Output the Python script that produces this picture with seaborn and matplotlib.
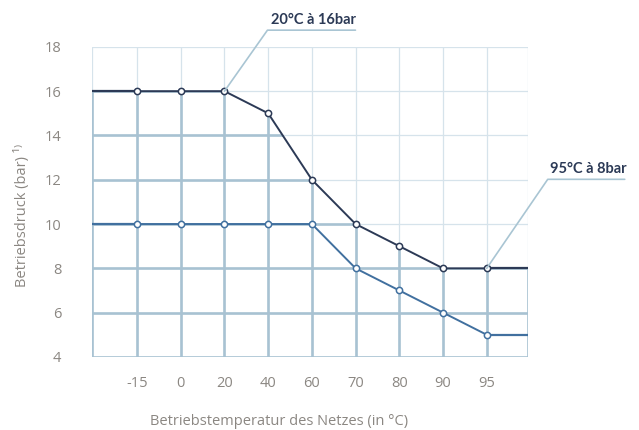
import numpy as np
import pandas as pd
import matplotlib
matplotlib.use("Agg")
import matplotlib.pyplot as plt
from matplotlib.patches import Polygon
import seaborn as sns

temps = ["-15", "0", "20", "40", "60", "70", "80", "90", "95"]
druck_oben = [16, 16, 16, 15, 12, 10, 9, 8, 8]
druck_unten = [10, 10, 10, 10, 10, 8, 7, 6, 5]
y_ticks = [4, 6, 8, 10, 12, 14, 16, 18]

sns.set_theme(style="white")
plt.rcParams['font.family'] = ['Open Sans', 'DejaVu Sans']

c_oben = "#2c3a56"
c_unten = "#41709f"
c_grid = "#d6e3eb"
c_grid_dick = "#a8c2d2"
c_text = "#8b8782"
c_leader = "#a9c5d3"

pos = np.arange(len(temps))
df = pd.DataFrame({
    "pos": np.concatenate([pos, pos]),
    "druck": druck_oben + druck_unten,
    "linie": ["oben"] * len(temps) + ["unten"] * len(temps),
})

fig = plt.figure(figsize=(6.39, 4.30), dpi=100)
ax = fig.add_axes([0.144, 0.170, 0.682, 0.721])
xmin, xmax = -1.03, len(temps) - 1 + 0.94
ax.set_xlim(xmin, xmax)
ax.set_ylim(y_ticks[0], y_ticks[-1])

xs_grid = list(pos) + [xmin, xmax]

# duenne Gitterlinien
for x in xs_grid:
    ax.axvline(x, color=c_grid, lw=0.9, zorder=1)
for y in y_ticks:
    ax.axhline(y, color=c_grid, lw=0.9, zorder=1)

# dicke Gitterlinien unter der oberen Kurve
px = [xmin - 0.3] + list(pos) + [xmax + 0.3]
py = [druck_oben[0]] + druck_oben + [druck_oben[-1]]
poly_pts = list(zip(px, py)) + [(xmax + 0.3, y_ticks[0] - 0.5), (xmin - 0.3, y_ticks[0] - 0.5)]
clip = Polygon(poly_pts, closed=True, transform=ax.transData)
for x in xs_grid:
    l = ax.axvline(x, color=c_grid_dick, lw=1.9, zorder=2)
    l.set_clip_path(clip)
for y in y_ticks:
    l = ax.axhline(y, color=c_grid_dick, lw=1.9, zorder=2)
    l.set_clip_path(clip)

# Verlaengerung bis zum Rand
for vals, c in [(druck_oben, c_oben), (druck_unten, c_unten)]:
    ax.plot([xmin, 0], [vals[0], vals[0]], color=c, lw=1.6, zorder=3)
    ax.plot([len(temps) - 1, xmax], [vals[-1], vals[-1]], color=c, lw=1.6, zorder=3)

sns.lineplot(data=df, x="pos", y="druck", hue="linie",
             palette={"oben": c_oben, "unten": c_unten},
             marker="o", markersize=4.5, markerfacecolor="white",
             markeredgewidth=1.1, lw=1.4, legend=False, ax=ax, zorder=4)
for line, c in zip(ax.lines[-2:], [c_oben, c_unten]):
    line.set_markeredgecolor(c)

for s in ax.spines.values():
    s.set_visible(False)

ax.set_xticks(pos)
ax.set_xticklabels(temps)
ax.set_yticks(y_ticks)
ax.tick_params(axis="x", length=0, pad=14, labelsize=10.5, labelcolor=c_text)
ax.tick_params(axis="y", length=0, pad=22, labelsize=10.5, labelcolor=c_text)
ax.set_xlabel("Betriebstemperatur des Netzes (in °C)", color=c_text, fontsize=10.5)
ax.set_ylabel("Betriebsdruck (bar) ¹⁾", color=c_text, fontsize=10.5)
ax.xaxis.set_label_coords(0.43, -0.183)
ax.yaxis.set_label_coords(-0.143, 0.455)

# Beschriftungen mit Fuehrungslinien
def hinweis(text, xi, yv, dx_px, dy_px, breite_px):
    p0 = ax.transData.transform((xi, yv))
    p1 = p0 + np.array([dx_px, dy_px])
    p2 = p1 + np.array([breite_px, 0])
    inv = fig.transFigure.inverted()
    a, b, c = inv.transform(p0), inv.transform(p1), inv.transform(p2)
    fig.lines.append(plt.Line2D([a[0], b[0], c[0]], [a[1], b[1], c[1]],
                                transform=fig.transFigure, color=c_leader, lw=1.2))
    fig.text((b[0] + c[0]) / 2 + 0.003, b[1] + 0.008, text, ha="center", va="bottom",
             fontsize=10.5, fontweight="bold", color=c_oben, family=["Lato", "DejaVu Sans"])

hinweis("20°C à 16bar", 2, 16, 43, 61, 88)
hinweis("95°C à 8bar", 8, 8, 61, 89, 77)

fig.savefig("out.png", dpi=100)
